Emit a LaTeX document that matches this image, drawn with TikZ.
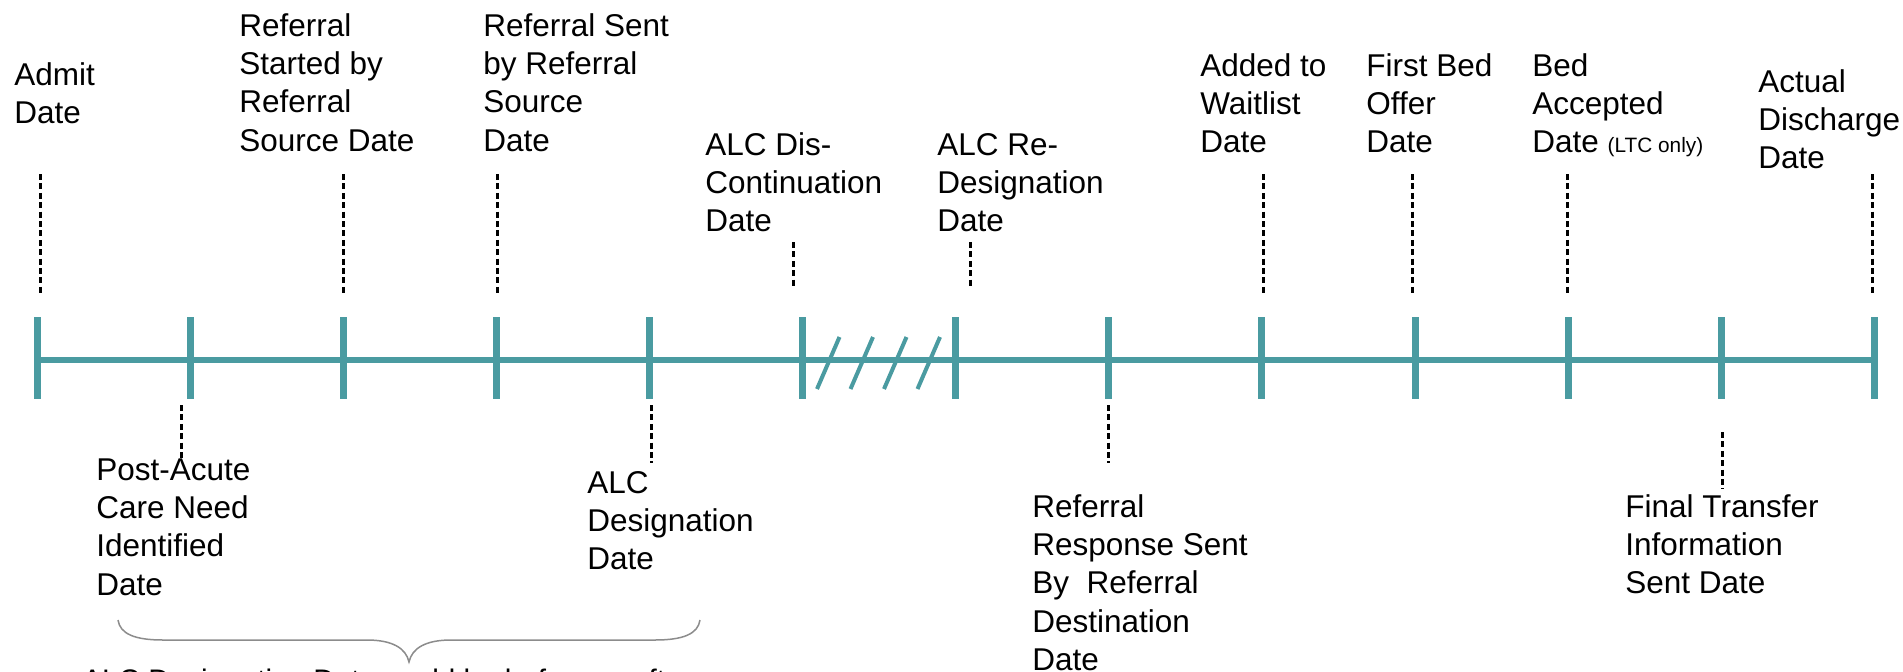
\documentclass[tikz,border=0pt]{standalone}
\usepackage{fontspec}
\setmainfont{Liberation Sans}
\definecolor{tealline}{RGB}{74,155,161}
\definecolor{bracegray}{RGB}{140,140,140}
\begin{document}
\begin{tikzpicture}[x=0.5pt,y=-0.5pt,
  lbl/.style={anchor=base west, inner sep=0pt, align=left,
    font=\fontsize{15.75pt}{19.2pt}\selectfont},
  axisline/.style={draw=tealline, line width=3pt},
  ticmark/.style={draw=tealline, line width=3.5pt},
  breakmark/.style={draw=tealline, line width=2pt},
  leader/.style={draw=black, line width=1.5pt, dash pattern=on 3pt off 1.7pt},
  bracecurve/.style={draw=bracegray, line width=0.75pt}]

\clip (0,0) rectangle (1903,671);
\fill[white] (0,0) rectangle (1903,671);

% timeline with its tick marks
\draw[axisline] (37,360) -- (1874,360);
\foreach \x in {37,190,343,496,649,802,955,1108,1261,1415,1568,1721,1874}
  \draw[ticmark] (\x,317) -- (\x,399);

% break in the timeline
\foreach \x in {817,850.5,884,917.5}
  \draw[breakmark] (\x,389) -- ({\x+22.5},337);

% labels above the line (placed by the baseline of their last line)
\node[lbl] (admit)    at (14,123.4)   {Admit\\Date};
\node[lbl] (refstart) at (239,151.2)  {Referral\\Started by\\Referral\\Source Date};
\node[lbl] (refsent)  at (483,151.2)  {Referral Sent\\by Referral\\Source\\Date};
\node[lbl] (alcdis)   at (705,231.8)  {ALC Dis-\\Continuation\\Date};
\node[lbl] (alcre)    at (937,231.8)  {ALC Re-\\Designation\\Date};
\node[lbl] (waitlist) at (1200,152.8) {Added to\\Waitlist\\Date};
\node[lbl] (firstbed) at (1366,152.8) {First Bed\\Offer\\Date};
\node[lbl] (bedacc)   at (1532,152.8) {Bed\\Accepted\\Date {\fontsize{10.4pt}{12pt}\selectfont (LTC only)}};
\node[lbl] (actual)   at (1758,168.8) {Actual\\Discharge\\Date};

% labels below the line
\node[lbl] (postacute) at (96,595.2)   {Post-Acute\\Care Need\\Identified\\Date};
\node[lbl] (alcdes)    at (587,569.8)  {ALC\\Designation\\Date};
\node[lbl] (refresp)   at (1032,670.6) {Referral\\Response Sent\\By~ Referral\\Destination\\Date};
\node[lbl] (final)     at (1625,593.8) {Final Transfer\\Information\\Sent Date};

% dashed leaders from the labels to the line
\foreach \n/\x/\ya/\yb in {admit/40/174/295, refstart/343/174/295, refsent/497/174/295,
    alcdis/793/242/287, alcre/970/242/287, waitlist/1263/174/295,
    firstbed/1412/174/295, bedacc/1567/174/295, actual/1872/174/295,
    postacute/181/405/458, alcdes/651/405/463, refresp/1108/405/463,
    final/1722/432/489}{
  \coordinate (\n-a) at (\x,\ya);
  \coordinate (\n-b) at (\x,\yb);
  \draw[leader] (\n-a) -- (\n-b);
}

% brace grouping the early dates
\coordinate (brL) at (118,620);
\coordinate (brM) at (409,662);
\coordinate (brR) at (700,620);
\draw[bracecurve] (brL) .. controls (120,634) and (135,640) .. (163,640) -- (367,640)
  .. controls (392,640) and (406,648) .. (brM)
  .. controls (412,648) and (426,640) .. (451,640) -- (655,640)
  .. controls (683,640) and (698,634) .. (brR);
\node[lbl, font=\fontsize{14.85pt}{18pt}\selectfont] (note) at (82,690)
  {ALC Designation Date could be before or after};
\end{tikzpicture}
\end{document}
